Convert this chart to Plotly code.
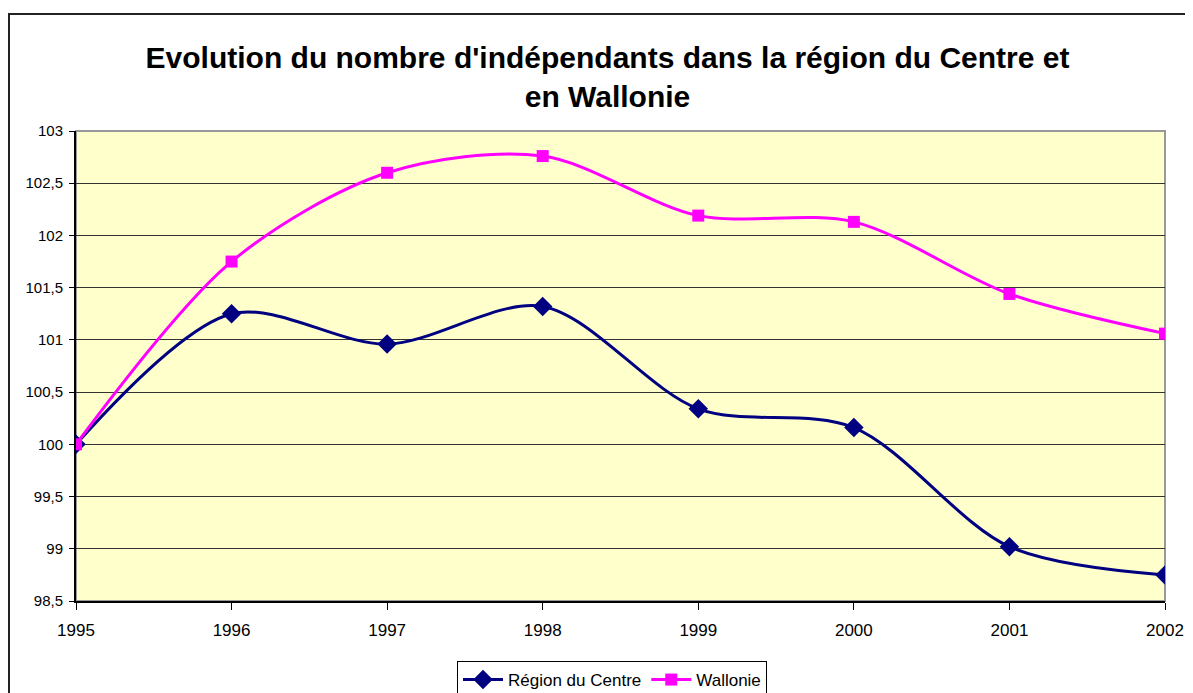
import plotly.graph_objects as go

years = [1995, 1996, 1997, 1998, 1999, 2000, 2001, 2002]
centre = [100.0, 101.25, 100.96, 101.32, 100.34, 100.16, 99.02, 98.75]
wallonie = [100.0, 101.75, 102.60, 102.76, 102.19, 102.13, 101.44, 101.06]

title_text = "<b>Evolution du nombre d'indépendants dans la région du Centre et<br>en Wallonie</b>"
y_ticks = [98.5, 99, 99.5, 100, 100.5, 101, 101.5, 102, 102.5, 103]

OFF = 8  # default page body margin
W, H = 1193 - OFF, 693 - OFF
L, R, T, B = 76 - OFF, 28, 131 - OFF, 92
pw, ph = W - L - R, H - T - B

fig = go.Figure()
fig.add_trace(go.Scatter(
    x=years, y=centre, name="Région du Centre", mode="lines+markers",
    line=dict(color="#000080", width=3, shape="spline", smoothing=0.9),
    marker=dict(symbol="diamond", size=15, color="#000080"),
))
fig.add_trace(go.Scatter(
    x=years, y=wallonie, name="Wallonie", mode="lines+markers",
    line=dict(color="#FF00FF", width=3, shape="spline", smoothing=0.9),
    marker=dict(symbol="square", size=12, color="#FF00FF"),
))

def px2x(p):
    return (p - OFF - L) / pw

def px2y(p):
    return (H - B - (p - OFF)) / ph

shapes = [
    dict(type="rect", xref="paper", yref="paper",
         x0=px2x(9), x1=px2x(1210), y0=px2y(710), y1=px2y(14),
         line=dict(color="#222222", width=2), fillcolor="rgba(0,0,0,0)", layer="below"),
    dict(type="rect", xref="paper", yref="paper", x0=0, x1=1, y0=0, y1=1,
         line=dict(color="#999999", width=2), fillcolor="rgba(0,0,0,0)", layer="below"),
]

fig.update_layout(
    width=W, height=H,
    margin=dict(l=L, r=R, t=T, b=B, autoexpand=False),
    paper_bgcolor="white",
    plot_bgcolor="#FFFFCC",
    separators=", ",
    font=dict(family="Liberation Sans, Arial, sans-serif", size=15, color="black"),
    title=dict(text=title_text, x=(607.5 - OFF) / W, xref="container", xanchor="center",
               y=1 - 60 / H, yref="container", yanchor="middle",
               font=dict(family="Liberation Sans, Arial, sans-serif", size=30, color="black")),
    showlegend=True,
    legend=dict(orientation="h", x=px2x(457), xanchor="left", y=px2y(661), yanchor="top",
                bordercolor="black", borderwidth=1, bgcolor="white",
                font=dict(size=17), itemwidth=40, tracegroupgap=0),
    shapes=shapes,
    xaxis=dict(range=[1995, 2002], tickvals=years, ticktext=[str(y) for y in years],
               showgrid=False, zeroline=False, showline=True, linecolor="black", linewidth=2,
               ticks="outside", ticklen=7, tickcolor="black", tickwidth=1,
               ticklabelstandoff=6, tickfont=dict(size=17)),
    yaxis=dict(range=[98.5, 103], tickvals=y_ticks,
               ticktext=[("%g" % v).replace(".", ",") for v in y_ticks],
               showgrid=True, gridcolor="#333333", gridwidth=1, zeroline=False,
               showline=True, linecolor="black", linewidth=2,
               ticks="outside", ticklen=5, tickcolor="black", tickwidth=1,
               ticklabelstandoff=3, tickfont=dict(size=15)),
)

fig.write_html("out.html")
